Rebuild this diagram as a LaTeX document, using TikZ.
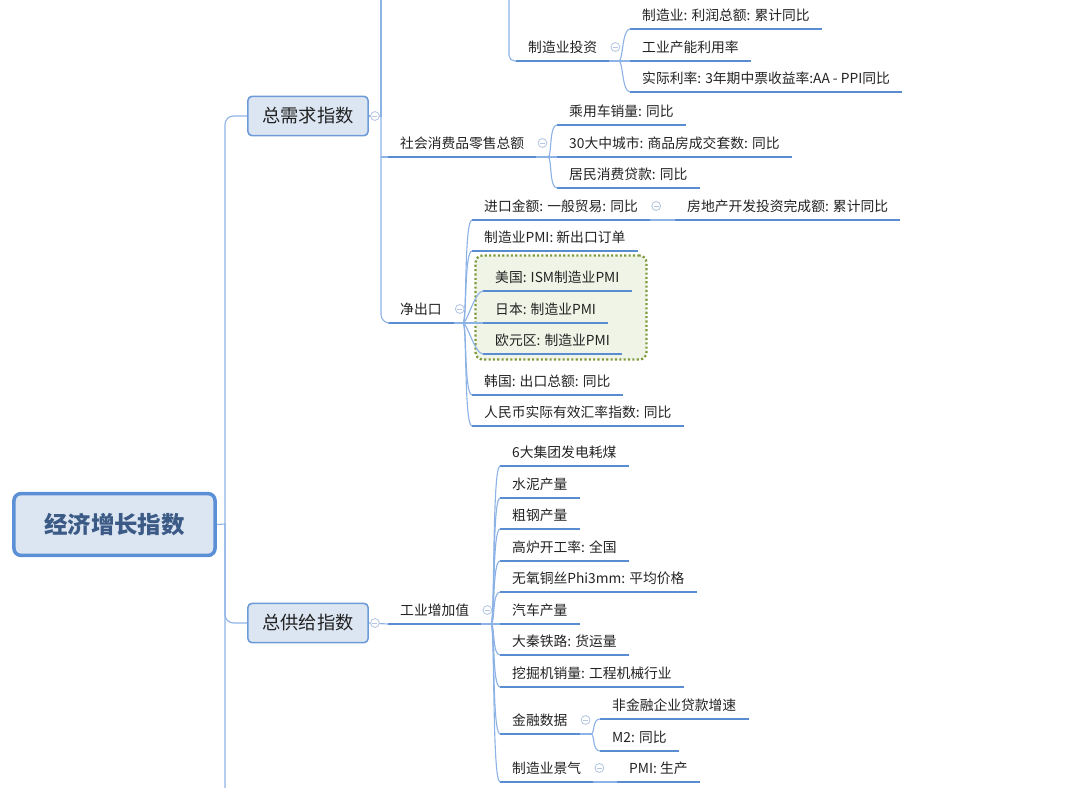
\documentclass[tikz,border=0pt]{standalone}
\usepackage{fontspec}
\setmainfont{Noto Sans CJK SC}
\usetikzlibrary{positioning}
\definecolor{ulc}{HTML}{5A8CD2}
\definecolor{linkc}{HTML}{8DB2E6}
\definecolor{boxfill}{HTML}{DCE6F2}
\definecolor{boxdraw}{HTML}{6C9BD8}
\definecolor{rootdraw}{HTML}{5B8FD6}
\definecolor{roottext}{HTML}{3B5A85}
\definecolor{txtc}{HTML}{222222}
\definecolor{grpfill}{HTML}{EFF4E6}
\definecolor{grpdraw}{HTML}{7E9A3C}
\definecolor{foldc}{HTML}{B4C6E2}
\tikzset{uline/.style={draw=ulc, line width=2.1pt},
         leaf/.style={anchor=south west, inner xsep=8.5pt, inner ysep=0pt,
                      text height=9pt, text depth=6pt, text=txtc,
                      font=\fontsize{9.8pt}{12pt}\selectfont,
                      append after command={(\tikzlastnode.south west) edge[uline] (\tikzlastnode.south east)}},
         mainbox/.style={draw=boxdraw, fill=boxfill, line width=1.1pt, rounded corners=3pt,
                         minimum width=85.5pt, minimum height=28pt, text=txtc,
                         font=\fontsize{13pt}{15pt}\selectfont},
         centraltopic/.style={draw=rootdraw, fill=boxfill, line width=2.5pt, rounded corners=5pt,
                              minimum width=143pt, minimum height=44pt, text=roottext,
                              font=\fontsize{16.7pt}{19pt}\selectfont\bfseries},
         grpbox/.style={draw=grpdraw, fill=grpfill, line width=1.6pt, rounded corners=5pt,
                        dash pattern=on 1.5pt off 1.6pt},
         link/.style={draw=linkc, line width=0.8pt},
         elbow/.style={link, rounded corners=6pt},
         curvy/.style={link, to path={.. controls +(4,0) and +(-8,0) .. (\tikztotarget)}},
         fold/.style={circle, draw=foldc, fill=white, line width=0.6pt, minimum size=6.3pt, inner sep=0pt,
                      path picture={\draw[foldc, line width=0.6pt]
                        ([xshift=-1.8pt]path picture bounding box.center) -- ([xshift=1.8pt]path picture bounding box.center);}},
         }
\begin{document}
\begin{tikzpicture}[x=0.025cm, y=-0.025cm]
\useasboundingbox (0,0) rectangle (1080,788);
% boundary round the three PMI topics
\node[grpbox, minimum width=121.5pt, minimum height=74pt] (grp) at (561,307.5) {};

% central and main topics
\node[centraltopic] (eco) at (114.5,524.5) {经济增长指数};
\node[mainbox] (xq) at (308,116) {总需求指数};
\node[mainbox] (gj) at (308,623) {总供给指数};

% demand side
\node[leaf] (zzt) at (516,61) {制造业投资};
\node[leaf] (zl) at (630,29) {制造业: 利润总额: 累计同比};
\node[leaf] (gn) at (630,61) {工业产能利用率};
\node[leaf] (sl) at (630,92) {实际利率: 3年期中票收益率:AA - PPI同比};
\node[leaf] (ss) at (388,157) {社会消费品零售总额};
\node[leaf] (cy) at (557,125) {乘用车销量: 同比};
\node[leaf] (sf) at (557,157) {30大中城市: 商品房成交套数: 同比};
\node[leaf] (jm) at (557,188) {居民消费贷款: 同比};
\node[leaf] (jck) at (388,323) {净出口};
\node[leaf] (jk) at (472,220) {进口金额: 一般贸易: 同比};
\node[leaf] (fd) at (675,220) {房地产开发投资完成额: 累计同比};
\node[leaf] (pmi) at (472,251) {制造业PMI: 新出口订单};
\node[leaf] (us) at (483,291) {美国: ISM制造业PMI};
\node[leaf] (jp) at (483,323) {日本: 制造业PMI};
\node[leaf] (eu) at (483,354) {欧元区: 制造业PMI};
\node[leaf] (kr) at (472,395) {韩国: 出口总额: 同比};
\node[leaf] (rmb) at (472,426) {人民币实际有效汇率指数: 同比};

% supply side
\node[leaf] (gy) at (388,624) {工业增加值};
\node[leaf] (c1) at (500,466) {6大集团发电耗煤};
\node[leaf] (c2) at (500,498) {水泥产量};
\node[leaf] (c3) at (500,529) {粗钢产量};
\node[leaf] (c4) at (500,561) {高炉开工率: 全国};
\node[leaf] (c5) at (500,592) {无氧铜丝Phi3mm: 平均价格};
\node[leaf] (c6) at (500,624) {汽车产量};
\node[leaf] (c7) at (500,655) {大秦铁路: 货运量};
\node[leaf] (c8) at (500,687) {挖掘机销量: 工程机械行业};
\node[leaf] (c9) at (500,734) {金融数据};
\node[leaf] (f1) at (600,719) {非金融企业贷款增速};
\node[leaf] (f2) at (600,751) {M2: 同比};
\node[leaf] (c10) at (500,782) {制造业景气};
\node[leaf] (pm) at (617,782) {PMI: 生产};

% junctions and free ends
\coordinate (jr) at (225,524);
\coordinate (jrbot) at (225,788);
\coordinate (jq) at (381,116);
\coordinate (jqtop) at (381,0);
\coordinate (zzttop) at (509,0);
\coordinate (jz) at (619,61);
\coordinate (js) at (548,157);
\coordinate (jj) at (463,323);
\coordinate (jg) at (491,624);
\coordinate (jf) at (591,734);

% connectors
\draw[link] (eco.east) -- (jr) -- (jrbot);
\draw[elbow] (jr) |- (xq.west);
\draw[elbow] (jr) |- (gj.west);
\draw[link] (xq.east) -- (jq) -- (jqtop);
\draw[elbow] (jq) |- (jck.south west);
\draw[link] (ss.south west -| jq) -- (ss.south west);
\draw[link, rounded corners=4pt] (zzttop) |- (zzt.south west);
\draw[link] (zzt.south east) -- (jz);
\foreach \kid in {zl,gn,sl}
  \draw[curvy] (jz) to (\kid.south west);
\draw[link] (ss.south east) -- (js);
\foreach \kid in {cy,sf,jm}
  \draw[curvy] (js) to (\kid.south west);
\draw[link] (jck.south east) -- (jj);
\foreach \kid in {jk,pmi,us,jp,eu,kr,rmb}
  \draw[curvy] (jj) to (\kid.south west);
\draw[link] (jk.south east) -- (fd.south west);
\draw[link] (gj.east) -- (gy.south west);
\draw[link] (gy.south east) -- (jg);
\foreach \kid in {c1,c2,c3,c4,c5,c6,c7,c8,c9,c10}
  \draw[curvy] (jg) to (\kid.south west);
\draw[link] (c9.south east) -- (jf);
\foreach \kid in {f1,f2}
  \draw[curvy] (jf) to (\kid.south west);
\draw[link] (c10.south east) -- (pm.south west);

% collapse marks
\node[fold] (fxq) at ([xshift=4.3pt]xq.east) {};
\node[fold] (fgj) at ([xshift=4.3pt]gj.east) {};
\foreach \nd in {zzt,ss,jck,jk,gy,c9,c10}
  \node[fold] (f\nd) at ([shift={(6,-14)}]\nd.south east) {};
\end{tikzpicture}
\end{document}
